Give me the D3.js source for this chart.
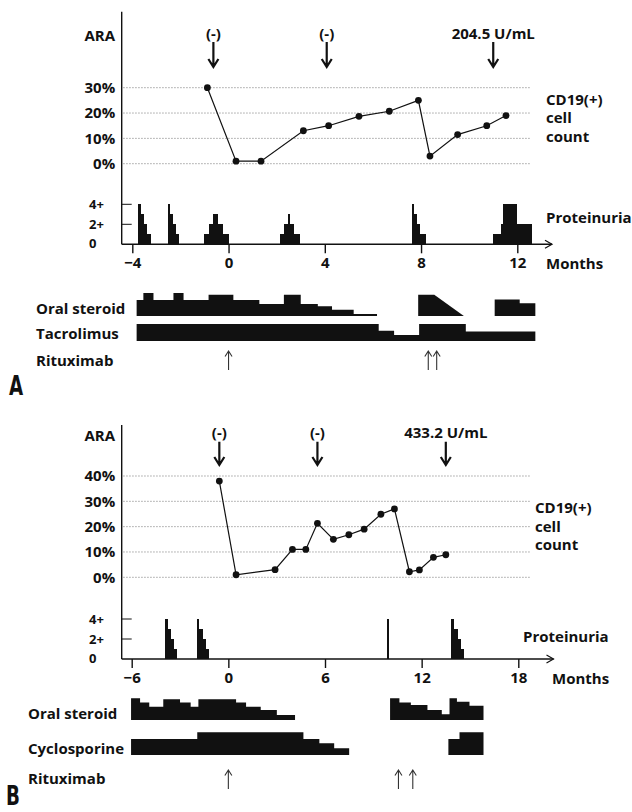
<!DOCTYPE html>
<html>
<head>
<meta charset="utf-8">
<script src="https://cdn.jsdelivr.net/npm/d3@7"></script>
<style>
  body { margin: 0; background: #fff; }
  svg text { font-family: 'Open Sans', 'Noto Sans', sans-serif; font-weight: 700; fill: #111; }
</style>
</head>
<body>
<div id="chart"></div>
<script>
// ---- panel A data ----
const monthTicksA = [-4, 0, 4, 8, 12];
const cd19TicksA = [0, 10, 20, 30];
const cd19A = [[-0.88, 30], [0.31, 1], [1.35, 1], [3.11, 13], [4.16, 15], [5.42, 18.7],
  [6.68, 20.7], [7.89, 25], [8.37, 3], [9.52, 11.5], [10.73, 15], [11.53, 19]];
const araMonthsA = [-0.63, 4.08, 11.0];
const araLabelsA = ['(-)', '(-)', '204.5 U/mL'];
// proteinuria steps: [start month, end month, grade]
const proteinuriaA = [
  [-3.77, -3.64, 4], [-3.64, -3.53, 3], [-3.53, -3.37, 2], [-3.37, -3.22, 1],
  [-2.52, -2.43, 4], [-2.43, -2.31, 3], [-2.31, -2.18, 2], [-2.18, -2.04, 1],
  [-1.04, -0.83, 1], [-0.83, -0.65, 2], [-0.65, -0.42, 3], [-0.42, -0.21, 2], [-0.21, 0, 1],
  [2.14, 2.31, 1], [2.31, 2.46, 2], [2.46, 2.56, 3], [2.56, 2.74, 2], [2.74, 2.97, 1],
  [7.61, 7.72, 4], [7.72, 7.85, 3], [7.85, 7.96, 2], [7.96, 8.21, 1],
  [10.98, 11.31, 1], [11.31, 11.42, 2], [11.42, 11.98, 4], [11.98, 12.63, 2]
];
// relative doses (100 = highest), [start, end, dose] or [start, end, doseStart, doseEnd]
const steroidA = [
  [[-3.82, -3.54, 70], [-3.54, -3.12, 100], [-3.12, -2.29, 70], [-2.29, -1.87, 100],
   [-1.87, -0.83, 70], [-0.83, 0.2, 92], [0.2, 1.28, 70], [1.28, 2.3, 52], [2.3, 3.0, 92],
   [3.0, 3.71, 52], [3.71, 4.3, 42], [4.3, 5.2, 27], [5.2, 6.17, 9]],
  [[7.88, 8.55, 92], [8.55, 9.78, 92, 0]],
  [[11.06, 12.1, 72], [12.1, 12.75, 55]]
];
const tacrolimusA = [
  [[-3.82, 6.24, 100], [6.24, 6.88, 60], [6.88, 7.92, 35], [7.92, 9.86, 100], [9.86, 12.75, 56]]
];
const rituximabA = [0, 8.3, 8.65];

// ---- panel B data ----
const monthTicksB = [-6, 0, 6, 12, 18];
const cd19TicksB = [0, 10, 20, 30, 40];
const cd19B = [[-0.56, 38], [0.48, 1], [2.9, 3], [3.98, 11], [4.81, 11], [5.53, 21.3],
  [6.52, 15], [7.48, 16.8], [8.43, 19], [9.47, 24.9], [10.31, 27], [11.24, 2.2],
  [11.86, 2.9], [12.73, 7.9], [13.5, 8.9]];
const araMonthsB = [-0.56, 5.53, 13.5];
const araLabelsB = ['(-)', '(-)', '433.2 U/mL'];
const proteinuriaB = [
  [-3.93, -3.77, 4], [-3.77, -3.57, 3], [-3.57, -3.37, 2], [-3.37, -3.18, 1],
  [-1.96, -1.80, 4], [-1.80, -1.59, 3], [-1.59, -1.39, 2], [-1.39, -1.18, 1],
  [9.86, 9.95, 4],
  [13.85, 14.02, 4], [14.02, 14.25, 3], [14.25, 14.45, 2], [14.45, 14.65, 1]
];
const steroidB = [
  [[-6.04, -5.48, 99], [-5.48, -4.91, 80], [-4.91, -4.04, 60], [-4.04, -3.0, 94],
   [-3.0, -2.34, 80], [-2.34, -1.86, 60], [-1.86, 0.48, 94], [0.48, 1.1, 80],
   [1.1, 2.01, 60], [2.01, 3.01, 45], [3.01, 4.14, 23]],
  [[10.04, 10.62, 99], [10.62, 11.33, 80], [11.33, 12.36, 68], [12.36, 13.25, 45],
   [13.25, 13.73, 26], [13.73, 14.19, 99], [14.19, 14.97, 83], [14.97, 15.84, 65]]
];
const cyclosporineB = [
  [[-6.04, -1.93, 70], [-1.93, 4.66, 100], [4.66, 5.65, 70], [5.65, 6.57, 52], [6.57, 7.5, 30]],
  [[13.66, 14.35, 70], [14.35, 15.84, 100]]
];
const rituximabB = [0, 10.56, 11.45];

const proteinuriaTicks = [4, 2, 0];
const proteinuriaTickLabels = ['4+', '2+', '0'];

const width = 632;
const height = 812;
const axisX = 121.7;
const fontSize = 15;
const ink = '#111';

const svg = d3.select('#chart')
  .append('svg')
  .attr('width', width)
  .attr('height', height);

const drawPanel = (p) => {
  const g = svg.append('g');
  const x = d3.scaleLinear().domain(p.xDomain).range(p.xRange);
  const yCd = d3.scaleLinear().domain([0, d3.max(p.cdTicks)]).range([p.cdBottom, p.cdTop]);
  const yPr = d3.scaleLinear().domain([0, 4]).range([p.axisY, p.axisY - 40]);

  /* CD19 gridlines + labels */
  g.selectAll('.grid')
    .data(p.cdTicks)
    .join('line')
    .attr('x1', axisX + 1.5).attr('x2', 530)
    .attr('y1', d => yCd(d)).attr('y2', d => yCd(d))
    .attr('stroke', '#8a8a8a')
    .attr('stroke-width', 0.8)
    .attr('stroke-dasharray', '1.5,1.5');

  g.append('g')
    .attr('transform', 'translate(' + axisX + ',0)')
    .call(d3.axisLeft(yCd).tickValues(p.cdTicks).tickSize(0).tickPadding(6.5).tickFormat(d => d + '%'))
    .call(a => a.select('.domain').remove())
    .attr('font-size', fontSize)
    .attr('font-family', null);

  /* axes */
  g.append('line')
    .attr('x1', axisX).attr('x2', axisX)
    .attr('y1', p.axisTop).attr('y2', p.axisY)
    .attr('stroke', ink).attr('stroke-width', 1.4);

  g.append('line')
    .attr('x1', axisX).attr('x2', p.arrowX)
    .attr('y1', p.axisY).attr('y2', p.axisY)
    .attr('stroke', ink).attr('stroke-width', 1.4);

  g.append('path')
    .attr('d', `M${p.arrowX - 7},${p.axisY - 4}L${p.arrowX},${p.axisY}L${p.arrowX - 7},${p.axisY + 4}`)
    .attr('fill', 'none').attr('stroke', ink).attr('stroke-width', 1.2);

  g.append('g')
    .attr('transform', 'translate(0,' + p.axisY + ')')
    .call(d3.axisBottom(x).tickValues(p.monthTicks).tickSize(9).tickPadding(4.5))
    .call(a => a.select('.domain').remove())
    .call(a => a.selectAll('line').attr('stroke-width', 1.4).attr('stroke', ink))
    .attr('font-size', fontSize)
    .attr('font-family', null);

  g.append('text')
    .attr('x', p.monthsX).attr('y', p.axisY + 19)
    .attr('dominant-baseline', 'central')
    .attr('font-size', fontSize)
    .text('Months');

  /* proteinuria */
  g.selectAll('.ptick')
    .data(proteinuriaTicks.filter(d => d > 0))
    .join('line')
    .attr('x1', axisX).attr('x2', axisX + 10)
    .attr('y1', d => yPr(d)).attr('y2', d => yPr(d))
    .attr('stroke', ink).attr('stroke-width', 1);

  g.selectAll('.plabel')
    .data(proteinuriaTicks)
    .join('text')
    .attr('x', 89)
    .attr('y', d => yPr(d) - (d === 0 ? 1 : 0))
    .attr('dominant-baseline', 'central')
    .attr('font-size', 13)
    .text((d, i) => proteinuriaTickLabels[i]);

  g.selectAll('.pbar')
    .data(p.proteinuria)
    .join('rect')
    .attr('x', d => x(d[0]))
    .attr('width', d => Math.max(1.4, x(d[1]) - x(d[0])))
    .attr('y', d => yPr(d[2]))
    .attr('height', d => yPr(0) - yPr(d[2]))
    .attr('fill', ink)
    .attr('shape-rendering', 'crispEdges');

  g.append('text')
    .attr('x', p.protLabelX).attr('y', p.protLabelY)
    .attr('dominant-baseline', 'central')
    .attr('font-size', fontSize)
    .text('Proteinuria');

  /* CD19 line */
  g.append('path')
    .datum(p.cd19)
    .attr('d', d3.line().x(d => x(d[0])).y(d => yCd(d[1])))
    .attr('fill', 'none').attr('stroke', ink).attr('stroke-width', 1.2);

  g.selectAll('.dot')
    .data(p.cd19)
    .join('circle')
    .attr('cx', d => x(d[0]))
    .attr('cy', d => yCd(d[1]))
    .attr('r', 3.4)
    .attr('fill', ink);

  g.selectAll('.cdlabel')
    .data(['CD19(+)', 'cell', 'count'])
    .join('text')
    .attr('x', p.cdLabelX)
    .attr('y', (d, i) => p.cdLabelY[i])
    .attr('dominant-baseline', 'central')
    .attr('font-size', fontSize)
    .text(d => d);

  /* ARA */
  g.append('text')
    .attr('x', 115).attr('y', p.araY)
    .attr('text-anchor', 'end')
    .attr('dominant-baseline', 'central')
    .attr('font-size', fontSize)
    .text('ARA');

  g.selectAll('.aratext')
    .data(p.araMonths)
    .join('text')
    .attr('x', d => x(d))
    .attr('y', p.araTextY)
    .attr('text-anchor', 'middle')
    .attr('dominant-baseline', 'central')
    .attr('font-size', fontSize)
    .text((d, i) => p.araLabels[i]);

  g.selectAll('.araarrow')
    .data(p.araMonths)
    .join('path')
    .attr('d', d => {
      const ax = x(d);
      return `M${ax},${p.araArrow[0]}L${ax},${p.araArrow[1]}` +
        `M${ax - 5},${p.araArrow[1] - 8}L${ax},${p.araArrow[1]}L${ax + 5},${p.araArrow[1] - 8}`;
    })
    .attr('fill', 'none').attr('stroke', ink).attr('stroke-width', 2.2);

  /* treatments */
  p.rows.forEach(row => {
    g.append('text')
      .attr('x', p.rowLabelX).attr('y', row.labelY)
      .attr('dominant-baseline', 'central')
      .attr('font-size', fontSize)
      .text(row.label);

    const dose = d3.scaleLinear().domain([0, 100]).range([row.base, row.base - row.h]);
    const area = d3.area()
      .x(d => x(d[0]))
      .y0(row.base)
      .y1(d => dose(d[1]));

    row.groups.forEach(group => {
      const pts = [];
      group.forEach(s => {
        pts.push([s[0], s[2]]);
        pts.push([s[1], s.length > 3 ? s[3] : s[2]]);
      });
      g.append('path')
        .datum(pts)
        .attr('d', area)
        .attr('fill', ink);
    });
  });

  g.append('text')
    .attr('x', p.rowLabelX).attr('y', p.ritux.labelY)
    .attr('dominant-baseline', 'central')
    .attr('font-size', fontSize)
    .text('Rituximab');

  g.selectAll('.ritux')
    .data(p.ritux.months)
    .join('path')
    .attr('d', d => {
      const ax = x(d);
      const t = p.ritux.top;
      return `M${ax},${p.ritux.bottom}L${ax},${t}M${ax - 3.5},${t + 5.5}L${ax},${t}L${ax + 3.5},${t + 5.5}`;
    })
    .attr('fill', 'none').attr('stroke', '#333').attr('stroke-width', 1.1);

  /* panel letter, condensed */
  g.append('text')
    .attr('transform', `translate(${p.letterX},${p.letterY}) scale(0.78,1)`)
    .attr('font-size', 26)
    .style('font-family', "'Liberation Sans Narrow', 'DejaVu Sans Condensed', 'Roboto', sans-serif")
    .text(p.letter);
};

drawPanel({
  letter: 'A', letterX: 9, letterY: 395,
  xDomain: [-4, 12], xRange: [132.3, 517.3], monthTicks: monthTicksA,
  axisTop: 11.7, axisY: 244.3, arrowX: 552, monthsX: 546,
  cdTicks: cd19TicksA, cdBottom: 163.7, cdTop: 87.7, cd19: cd19A,
  cdLabelX: 546, cdLabelY: [98.5, 117, 135.5],
  proteinuria: proteinuriaA, protLabelX: 546, protLabelY: 216.7,
  araY: 35, araTextY: 32.5, araArrow: [42, 67], araMonths: araMonthsA, araLabels: araLabelsA,
  rowLabelX: 36,
  rows: [
    { label: 'Oral steroid', groups: steroidA, base: 316, h: 23, labelY: 308 },
    { label: 'Tacrolimus', groups: tacrolimusA, base: 341, h: 17, labelY: 333 }
  ],
  ritux: { labelY: 359.5, top: 351, bottom: 370, months: rituximabA }
});

drawPanel({
  letter: 'B', letterX: 6, letterY: 805,
  xDomain: [-6, 18], xRange: [131.7, 518.3], monthTicks: monthTicksB,
  axisTop: 425, axisY: 659, arrowX: 553.5, monthsX: 552,
  cdTicks: cd19TicksB, cdBottom: 577.3, cdTop: 476, cd19: cd19B,
  cdLabelX: 535, cdLabelY: [507, 525.5, 544],
  proteinuria: proteinuriaB, protLabelX: 523, protLabelY: 636,
  araY: 435, araTextY: 431.7, araArrow: [441.7, 465], araMonths: araMonthsB, araLabels: araLabelsB,
  rowLabelX: 28,
  rows: [
    { label: 'Oral steroid', groups: steroidB, base: 720, h: 22, labelY: 712.5 },
    { label: 'Cyclosporine', groups: cyclosporineB, base: 755, h: 22.7, labelY: 747.5 }
  ],
  ritux: { labelY: 777.5, top: 770, bottom: 789, months: rituximabB }
});
</script>
</body>
</html>
